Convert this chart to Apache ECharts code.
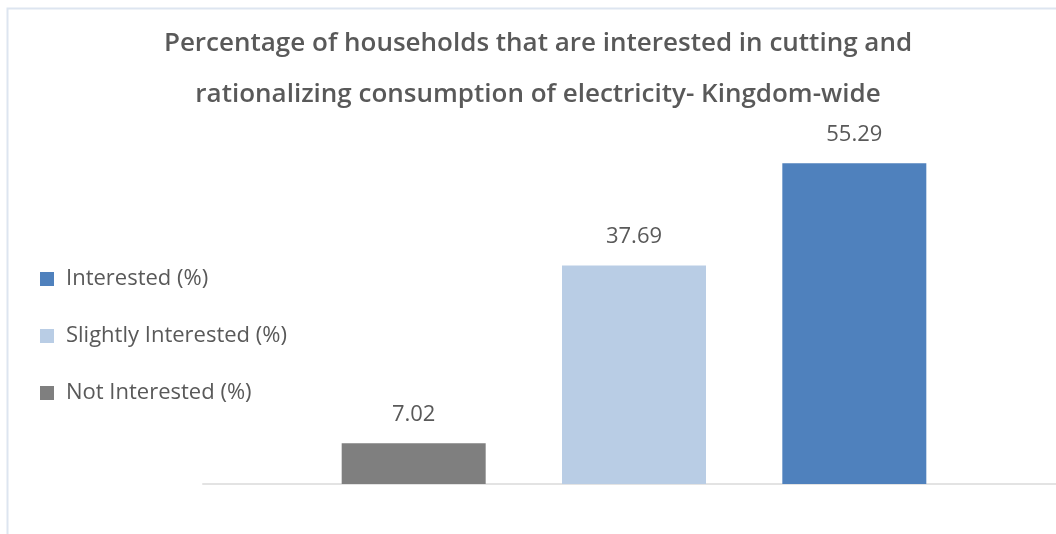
<!DOCTYPE html>
<html>
<head>
<meta charset="utf-8">
<script src="https://cdn.jsdelivr.net/npm/echarts@6/dist/echarts.min.js"></script>
<style>html,body{margin:0;padding:0;background:#fff;}#c{width:1056px;height:534px;}</style>
</head>
<body>
<div id="c"></div>
<script>
var titleLines = ['Percentage of households that are interested in cutting and', 'rationalizing consumption of electricity- Kingdom-wide'];
var seriesNames = ['Not Interested (%)', 'Slightly Interested (%)', 'Interested (%)'];
var seriesValues = [7.02, 37.69, 55.29];
var seriesColors = ['#7f7f7f', '#b9cde5', '#4f81bd'];
var legendOrder = ['Interested (%)', 'Slightly Interested (%)', 'Not Interested (%)'];
var categories = [''];

var FONT = '"Open Sans", "Noto Sans", sans-serif';
var chart = echarts.init(document.getElementById('c'), null, {renderer: 'canvas'});
var series = seriesNames.map(function (n, i) {
  return {
    name: n,
    type: 'bar',
    data: [seriesValues[i]],
    barWidth: 144,
    barGap: '53%',
    itemStyle: {color: seriesColors[i]},
    label: {show: true, position: 'top', distance: 18, color: '#595959', fontSize: 22, fontFamily: FONT,
      formatter: function (p) { return p.value.toFixed(2); }}
  };
});
chart.setOption({
  animation: false,
  backgroundColor: '#fff',
  title: {
    text: titleLines.join('\n'),
    left: 533, textAlign: 'center', top: 13,
    textStyle: {fontFamily: FONT, fontSize: 26, fontWeight: 600, color: '#595959', lineHeight: 51}
  },
  legend: {
    orient: 'vertical', left: 35, top: 263,
    itemWidth: 14, itemHeight: 14, itemGap: 35,
    data: legendOrder,
    icon: 'rect',
    textStyle: {fontFamily: FONT, fontSize: 22, color: '#595959', lineHeight: 22, padding: [0, 0, 0, 7]}
  },
  grid: [
    {left: 212, right: 0, top: 136, bottom: 50, containLabel: false},
    {left: 203, right: 0, top: 136, bottom: 50, containLabel: false}
  ],
  xAxis: [{
    type: 'category', data: categories, gridIndex: 0,
    axisLine: {show: false},
    axisTick: {show: false}, axisLabel: {show: false}
  }, {
    type: 'category', data: categories, gridIndex: 1,
    axisLine: {lineStyle: {color: '#e3e3e3', width: 2}},
    axisTick: {show: false}, axisLabel: {show: false}
  }],
  yAxis: [
    {type: 'value', min: 0, max: 60, show: false, splitLine: {show: false}, gridIndex: 0},
    {type: 'value', min: 0, max: 60, show: false, splitLine: {show: false}, gridIndex: 1}
  ],
  graphic: [{
    type: 'rect', shape: {x: 7.5, y: 8.5, width: 1200, height: 700},
    style: {fill: 'none', stroke: '#dde5f0', lineWidth: 2}, silent: true
  }],
  series: series
});
</script>
</body>
</html>
